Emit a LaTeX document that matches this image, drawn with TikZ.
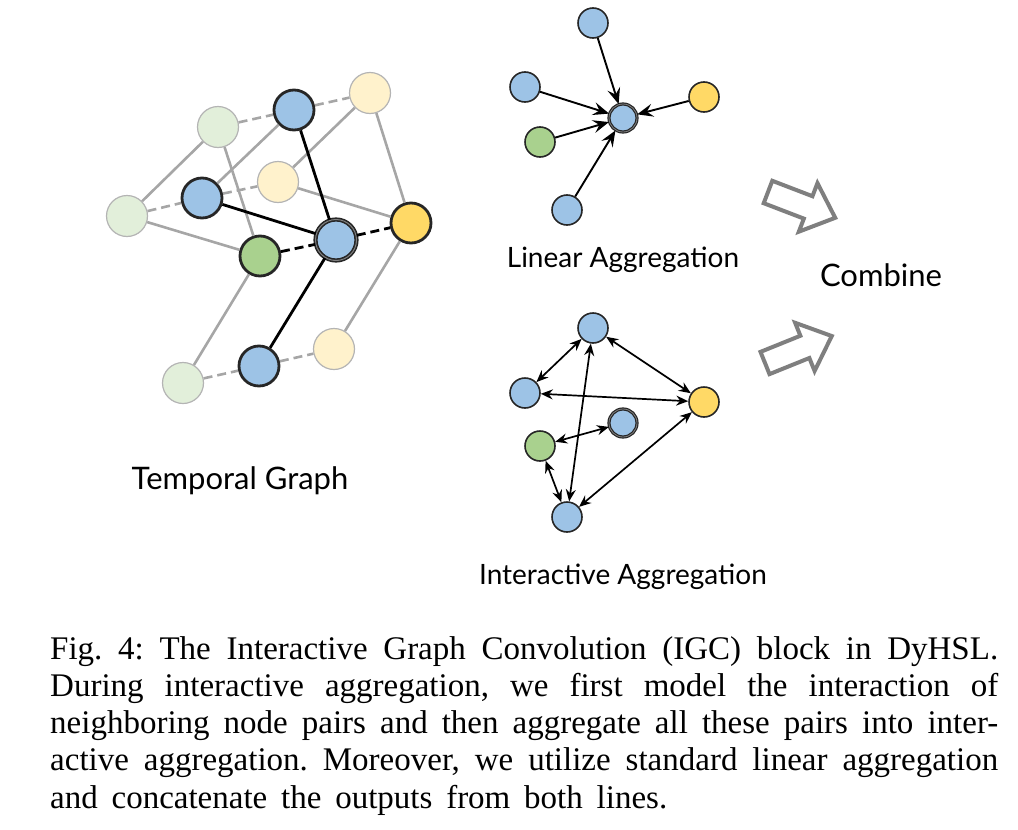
\documentclass[tikz,border=0pt]{standalone}
\usepackage{fontspec}
\setmainfont{Liberation Serif}
\newfontfamily\labfont{Lato}
\usetikzlibrary{arrows.meta}
\definecolor{cblue}{HTML}{9DC3E6}
\definecolor{cgreen}{HTML}{A9D18E}
\definecolor{cyellow}{HTML}{FFD966}
\definecolor{lgreen}{HTML}{E2EFDA}
\definecolor{lyellow}{HTML}{FFF2CC}
\definecolor{lborder}{HTML}{B4B4B4}
\definecolor{gline}{HTML}{A6A6A6}
\definecolor{dborder}{HTML}{262626}
\definecolor{harrow}{HTML}{7F7F7F}
\frenchspacing
\begin{document}
\begin{tikzpicture}[x=1pt,y=-1pt,
  tnode/.style={circle, minimum size=40pt, inner sep=0pt, line width=2.8pt, draw=dborder},
  lnode/.style={circle, minimum size=41pt, inner sep=0pt, line width=1.2pt, draw=lborder},
  cnode/.style={circle, minimum size=41pt, inner sep=0pt, line width=1.6pt, draw=dborder, double=gray, double distance=1pt, fill=cblue},
  snode/.style={circle, minimum size=30pt, inner sep=0pt, line width=1.6pt, draw=dborder},
  scnode/.style={circle, minimum size=28pt, inner sep=0pt, line width=1.2pt, draw=dborder, double=gray, double distance=0.8pt, fill=cblue},
  graylink/.style={draw=gline, line width=2.6pt},
  graydash/.style={graylink, dash pattern=on 9pt off 5pt},
  blacklink/.style={draw=black, line width=2.8pt},
  blackdash/.style={blacklink, dash pattern=on 9pt off 5pt},
  agg/.style={-{Stealth[length=16pt,width=13pt,inset=6pt]}, line width=1.9pt},
  inter/.style={{Stealth[length=12pt,width=10pt,inset=4pt]}-{Stealth[length=12pt,width=10pt,inset=4pt]}, line width=1.7pt},
  hollow/.style={draw=harrow, line width=4pt, fill=white, line join=miter},
  lab/.style={font=\labfont\fontsize{28}{33}\selectfont, inner sep=0pt},
  capline/.style={anchor=base west, inner sep=0pt, font=\fontsize{33}{37.3}\selectfont}
]
\path[use as bounding box] (0,0) rectangle (1018,830);

% ---------- Temporal graph ----------
\node[lnode, fill=lgreen]  (lgt) at (218,127) {};
\node[tnode, fill=cblue]   (bt)  at (294,110) {};
\node[lnode, fill=lyellow] (lyt) at (370,93) {};
\node[lnode, fill=lgreen]  (lgl) at (127,216) {};
\node[tnode, fill=cblue]   (bm)  at (202,198) {};
\node[lnode, fill=lyellow] (lym) at (278,182) {};
\node[tnode, fill=cgreen]  (gm)  at (260,256) {};
\node[cnode]               (ctr) at (336,240) {};
\node[tnode, fill=cyellow] (ym)  at (411,223) {};
\node[lnode, fill=lgreen]  (lgb) at (183,383) {};
\node[tnode, fill=cblue]   (bb)  at (259,366) {};
\node[lnode, fill=lyellow] (lyb) at (334,349) {};

\draw[graylink] (lgt) -- (lgl);
\draw[graylink] (lgt) -- (gm);
\draw[graylink] (bt) -- (bm);
\draw[graylink] (lyt) -- (lym);
\draw[graylink] (lyt) -- (ym);
\draw[graylink] (lgl) -- (gm);
\draw[graylink] (lym) -- (ym);
\draw[graylink] (gm) -- (lgb);
\draw[graylink] (ym) -- (lyb);
\draw[graydash] (lgt) -- (bt);
\draw[graydash] (bt) -- (lyt);
\draw[graydash] (lgl) -- (bm);
\draw[graydash] (bm) -- (lym);
\draw[graydash] (lgb) -- (bb);
\draw[graydash] (bb) -- (lyb);
\draw[blacklink] (bt) -- (ctr);
\draw[blacklink] (bm) -- (ctr);
\draw[blacklink] (bb) -- (ctr);
\draw[blackdash] (gm) -- (ctr);
\draw[blackdash] (ctr) -- (ym);

\node[lab, font=\labfont\fontsize{31}{36}\selectfont] (tlab) at (240,481) {Temporal Graph};

% ---------- Linear aggregation ----------
\node[scnode]              (lc)  at (623,118) {};
\node[snode, fill=cblue]   (lt)  at (593,23) {};
\node[snode, fill=cblue]   (ll)  at (525,87) {};
\node[snode, fill=cgreen]  (lg)  at (540,142) {};
\node[snode, fill=cblue]   (lb)  at (567,210) {};
\node[snode, fill=cyellow] (ly)  at (704,97) {};
\draw[agg] (lt) -- (lc);
\draw[agg] (ll) -- (lc);
\draw[agg] (lg) -- (lc);
\draw[agg] (lb) -- (lc);
\draw[agg] (ly) -- (lc);
\node[lab] (llab) at (623,260) {Linear Aggregation};

% ---------- Interactive aggregation ----------
\node[snode, fill=cblue]   (it)  at (593,328) {};
\node[snode, fill=cblue]   (il)  at (525,393) {};
\node[snode, fill=cyellow] (iy)  at (704,402) {};
\node[scnode]              (ic)  at (623,423) {};
\node[snode, fill=cgreen]  (ig)  at (540,446) {};
\node[snode, fill=cblue]   (ib)  at (567,517) {};
\draw[inter] (it) -- (il);
\draw[inter] (it) -- (iy);
\draw[inter] (it) -- (ib);
\draw[inter] (il) -- (iy);
\draw[inter] (ig) -- (ic);
\draw[inter] (ig) -- (ib);
\draw[inter] (ib) -- (iy);
\node[lab] (ilab) at (623,577) {Interactive Aggregation};

% ---------- Combine ----------
\begin{scope}[shift={(768,192)}, rotate=-21]
  \draw[hollow] (0,-12) -- (43,-12) -- (43,-26) -- (72,0) -- (43,26) -- (43,12) -- (0,12) -- cycle;
\end{scope}
\begin{scope}[shift={(765,363)}, rotate=22]
  \draw[hollow] (0,-12) -- (43,-12) -- (43,-26) -- (72,0) -- (43,26) -- (43,12) -- (0,12) -- cycle;
\end{scope}
\node[lab, font=\labfont\fontsize{31}{36}\selectfont] (comb) at (881,275) {Combine};

% ---------- Caption ----------
\node[capline] (cap1) at (50,659) {\makebox[948pt][s]{Fig.~4: The Interactive Graph Convolution (IGC) block in DyHSL.}};
\node[capline] (cap2) at (50,696.3) {\makebox[948pt][s]{During interactive aggregation, we first model the interaction of}};
\node[capline] (cap3) at (50,733.6) {\makebox[948pt][s]{neighboring node pairs and then aggregate all these pairs into inter-}};
\node[capline] (cap4) at (50,770.9) {\makebox[948pt][s]{active aggregation. Moreover, we utilize standard linear aggregation}};
\node[capline] (cap5) at (50,808.2) {\makebox[617pt][s]{and concatenate the outputs from both lines.}};
\end{tikzpicture}
\end{document}
